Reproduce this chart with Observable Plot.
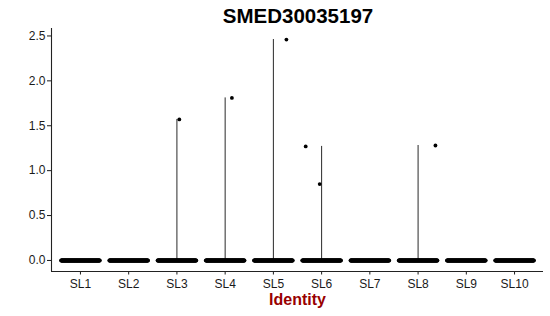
<!DOCTYPE html>
<html>
<head>
<meta charset="utf-8">
<script src="https://cdn.jsdelivr.net/npm/d3@7"></script>
<script src="https://cdn.jsdelivr.net/npm/@observablehq/plot@0.6"></script>
<style>
  html, body { margin: 0; padding: 0; background: #fff; }
  body { width: 550px; height: 316px; overflow: hidden; font-family: "Liberation Sans", Arial, Helvetica, sans-serif; }
  #title { margin-left: 51px; width: 494px; height: 28px; text-align: center; font-weight: bold; font-size: 20.5px; line-height: 21px; padding-top: 5px; box-sizing: border-box; color: #000; }
  #chart svg { display: block; }
</style>
</head>
<body>
<div id="title">SMED30035197</div>
<div id="chart"></div>
<script>
// Categories (cell identities)
const clusters = ["SL1", "SL2", "SL3", "SL4", "SL5", "SL6", "SL7", "SL8", "SL9", "SL10"];
// Approximate number of cells with zero expression per cluster (dense band at 0)
const zeroCounts = [120, 120, 120, 120, 120, 120, 120, 120, 120, 120];
// Non-zero expressing cells
const pointCluster = ["SL3", "SL4", "SL5", "SL6", "SL6", "SL8"];
const pointValue   = [1.57, 1.81, 2.46, 1.27, 0.85, 1.28];
const pointJitter  = [0.05, 0.14, 0.27, -0.33, -0.04, 0.36];
// Axis ticks
const yTicks = [0, 0.5, 1.0, 1.5, 2.0, 2.5];

const idx = c => clusters.indexOf(c) + 1;

// zero-valued cells spread across the jitter band
const zeroCells = [];
clusters.forEach((c, i) => {
  const n = zeroCounts[i];
  for (let k = 0; k < n; k++) {
    zeroCells.push({cluster: c, value: 0, jitter: -0.40 + 0.80 * k / (n - 1)});
  }
});
const exprCells = pointCluster.map((c, i) => ({cluster: c, value: pointValue[i], jitter: pointJitter[i]}));

// violin (degenerate -> vertical line from min to max)
const violins = clusters.map(c => {
  const vals = exprCells.filter(d => d.cluster === c).map(d => d.value);
  return {cluster: c, min: 0, max: vals.length ? d3.max(vals) : 0};
}).filter(d => d.max > 0);

const yMax = d3.max(pointValue);
const yPad = yMax * 0.05;

const chart = Plot.plot({
  width: 550,
  height: 288,
  marginLeft: 51,
  marginRight: 7,
  marginTop: 0,
  marginBottom: 45,
  style: {fontFamily: '"Liberation Sans", Arial, Helvetica, sans-serif', fontSize: "12px", background: "#fff", overflow: "visible"},
  x: {domain: [0.4, clusters.length + 0.6], axis: null},
  y: {domain: [-yPad, yMax + yPad], axis: null},
  marks: [
    Plot.ruleX(violins, {x: d => idx(d.cluster), y1: "min", y2: "max", stroke: "#111", strokeWidth: 0.9}),
    Plot.dot(zeroCells, {x: d => idx(d.cluster) + d.jitter, y: "value", r: 2, fill: "#000", stroke: "none"}),
    Plot.dot(exprCells, {x: d => idx(d.cluster) + d.jitter, y: "value", r: 1.9, fill: "#000", stroke: "none"}),
    Plot.axisY({ticks: yTicks, tickFormat: d3.format(".1f"), tickSize: 4, tickPadding: 2, fontSize: 12, color: "#1a1a1a", label: null}),
    Plot.axisX({ticks: d3.range(1, clusters.length + 1), tickFormat: i => clusters[i - 1], tickSize: 3.5, tickPadding: 4.5, fontSize: 12, color: "#1a1a1a", label: null}),
    Plot.ruleX([0.4], {stroke: "#222", strokeWidth: 1.1}),
    Plot.ruleY([-yPad], {stroke: "#222", strokeWidth: 1.1}),
    Plot.text(["Identity"], {frameAnchor: "bottom", dy: 28, text: d => d, fontSize: 16, fontWeight: "bold", fill: "#990000", lineAnchor: "middle"})
  ]
});
document.getElementById("chart").appendChild(chart);
</script>
</body>
</html>
